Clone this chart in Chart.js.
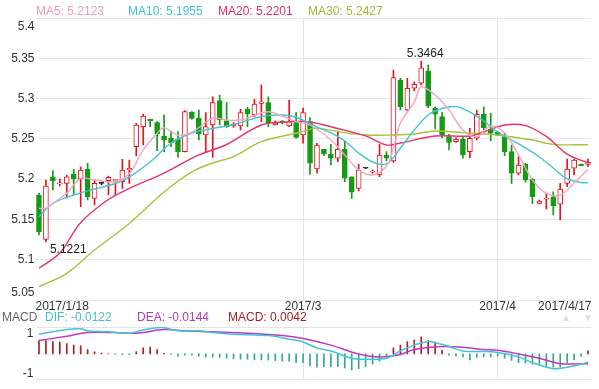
<!DOCTYPE html>
<html>
<head>
<meta charset="utf-8">
<script src="https://cdn.jsdelivr.net/npm/chart.js@4.4.1/dist/chart.umd.min.js"></script>
<style>
  body { margin: 0; background: #fff; font-family: "Liberation Sans", Arial, sans-serif; }
  #wrap { position: relative; width: 599px; height: 389px; overflow: hidden; }
  #kBox { position: absolute; left: 0; top: 0; width: 599px; height: 314px; }
  #mBox { position: absolute; left: 0; top: 312px; width: 599px; height: 77px; }
  .lg { position: absolute; font-size: 12px; line-height: 14px; white-space: nowrap; }
</style>
</head>
<body>
<div id="wrap">
  <div id="kBox"><canvas id="kChart"></canvas></div>
  <div id="mBox"><canvas id="mChart"></canvas></div>
  <div class="lg" style="left:36px;top:4px;color:#ee9cbb">MA5: 5.2123</div>
  <div class="lg" style="left:128px;top:4px;color:#43c0d0">MA10: 5.1955</div>
  <div class="lg" style="left:218px;top:4px;color:#dc2f6a">MA20: 5.2201</div>
  <div class="lg" style="left:308px;top:4px;color:#9fbd3c">MA30: 5.2427</div>
  <div class="lg" style="left:2px;top:310px;color:#666">MACD</div>
  <div class="lg" style="left:45px;top:310px;color:#43c0d0">DIF: -0.0122</div>
  <div class="lg" style="left:137px;top:310px;color:#b23cb4">DEA: -0.0144</div>
  <div class="lg" style="left:228px;top:310px;color:#a51f1f">MACD: 0.0042</div>
  <div class="lg" style="left:561px;top:311px;color:#ddd;font-size:10px">▲</div>
  <div class="lg" style="left:583px;top:311px;color:#ddd;font-size:10px">▼</div>
</div>
<script>
// K线数据
const opens = [5.1803,5.1253,5.203,5.1942,5.1948,5.2064,5.2006,5.2122,5.1762,5.1948,
  5.1981,5.1981,5.1968,5.2114,5.2403,5.2651,5.2743,5.2701,5.2535,5.2507,
  5.2495,5.2341,5.283,5.2755,5.2548,5.2672,5.2974,5.2725,5.266,5.266,
  5.2867,5.2796,5.2941,5.2949,5.2672,5.2725,5.266,5.2701,5.2548,5.2713,
  5.2126,5.237,5.2308,5.2259,5.237,5.203,5.1886,5.2135,5.2085,5.2051,
  5.23,5.2225,5.3231,5.2858,5.3128,5.319,5.3342,5.2879,5.2775,5.2527,
  5.2465,5.2498,5.2341,5.2507,5.2805,5.2622,5.2581,5.2527,5.2341,5.2073,
  5.2184,5.2002,5.17,5.175,5.1782,5.1688,5.1948,5.2135,5.2184,5.2184];
const closes = [5.1348,5.1915,5.1981,5.1952,5.203,5.2006,5.2114,5.1782,5.1948,5.1948,
  5.2023,5.1989,5.2114,5.2135,5.2672,5.2784,5.2725,5.256,5.2486,5.2452,
  5.2341,5.2837,5.2755,5.256,5.2651,5.2949,5.2734,5.2651,5.2684,5.2825,
  5.2809,5.2933,5.296,5.2701,5.2697,5.2697,5.2713,5.2519,5.2827,5.2197,
  5.2424,5.2312,5.2259,5.237,5.2011,5.1837,5.2114,5.2135,5.2101,5.23,
  5.2259,5.3259,5.2899,5.3128,5.3177,5.3383,5.2912,5.2805,5.2548,5.2457,
  5.2498,5.23,5.2507,5.2805,5.2639,5.2569,5.2548,5.2341,5.2073,5.2176,
  5.1989,5.1782,5.1729,5.1762,5.1671,5.1878,5.2126,5.2238,5.2167,5.2209];
const highs = [5.1824,5.1989,5.2105,5.2002,5.2051,5.2122,5.2154,5.2197,5.1989,5.1965,
  5.2039,5.1996,5.2246,5.2238,5.2693,5.2809,5.2747,5.2713,5.2796,5.2601,
  5.2589,5.285,5.2837,5.2858,5.2825,5.3023,5.3044,5.2949,5.2701,5.2867,
  5.2892,5.2991,5.3168,5.3023,5.2725,5.2725,5.2982,5.2825,5.2883,5.2763,
  5.2445,5.237,5.2432,5.2598,5.2473,5.203,5.2184,5.214,5.2114,5.2432,
  5.2341,5.3355,5.3252,5.3252,5.3209,5.3464,5.3417,5.2899,5.283,5.2557,
  5.2514,5.2527,5.2631,5.2858,5.2899,5.2817,5.2589,5.2569,5.2424,5.2279,
  5.2197,5.201,5.1741,5.1824,5.1844,5.1948,5.225,5.225,5.2187,5.225];
const lows = [5.1307,5.1221,5.1865,5.1915,5.1766,5.1803,5.1658,5.1741,5.1679,5.1927,
  5.1803,5.1803,5.1886,5.1948,5.2287,5.2424,5.2651,5.2353,5.2341,5.2403,
  5.2271,5.2337,5.2743,5.2486,5.2328,5.2271,5.2672,5.2643,5.2643,5.261,
  5.2651,5.2775,5.2713,5.2651,5.2672,5.2684,5.2651,5.2507,5.2445,5.206,
  5.2073,5.2291,5.2176,5.2217,5.1968,5.1762,5.1853,5.213,5.2073,5.203,
  5.2225,5.2209,5.2858,5.2846,5.3094,5.3168,5.2887,5.2622,5.2514,5.2362,
  5.2457,5.2259,5.2266,5.2486,5.261,5.2473,5.2539,5.2291,5.1948,5.2051,
  5.1961,5.17,5.1692,5.163,5.1555,5.1493,5.1906,5.2051,5.2165,5.2155];

// 均线 (读取的点: 位置 / 数值)
const ma5Idx = [0,1,2,4,6,8,11,13,15,17,18,20,22,25,27,29,31,33,35,37,39,42,44,46,48,50,51,52,54,55,57,59,61,63,65,67,69,71,73,75,77,79];
const ma5Val = [5.1638,5.1638,5.17,5.1824,5.201,5.199,5.1968,5.207,5.2362,5.2569,5.2639,5.2548,5.2585,5.2755,5.2734,5.2734,5.279,5.2837,5.2784,5.2713,5.2672,5.2486,5.23,5.2114,5.2052,5.216,5.2383,5.2697,5.2957,5.3144,5.3044,5.2858,5.261,5.2527,5.266,5.2573,5.23,5.199,5.1824,5.1803,5.1952,5.2123];
const ma10Idx = [0,2,5,8,11,13,16,19,22,25,28,32,35,37,40,42,44,46,48,50,52,54,56,58,60,62,64,66,68,70,72,74,76,78,79];
const ma10Val = [5.1534,5.17,5.1803,5.1878,5.1946,5.2027,5.2213,5.2445,5.2573,5.2629,5.2678,5.2778,5.2796,5.2768,5.2647,5.2573,5.2474,5.2324,5.2213,5.2188,5.2387,5.261,5.2796,5.2877,5.29,5.2833,5.2722,5.2585,5.2486,5.2387,5.2275,5.2138,5.2002,5.1958,5.1955];
const ma20Idx = [0,3,6,10,13,18,23,27,32,36,39,43,47,50,52,57,62,64,67,70,73,76,79];
const ma20Val = [5.0894,5.1083,5.1462,5.1747,5.1884,5.2076,5.23,5.243,5.2672,5.2713,5.271,5.2629,5.2536,5.2424,5.2449,5.2535,5.2535,5.2585,5.2672,5.2665,5.253,5.231,5.2201];
const ma30Idx = [0,4,8,13,18,22,25,28,32,37,40,43,47,51,54,57,62,66,71,74,79];
const ma30Val = [5.0665,5.083,5.112,5.145,5.184,5.209,5.22,5.228,5.2465,5.257,5.263,5.259,5.2548,5.2548,5.256,5.2598,5.257,5.2548,5.2486,5.2432,5.2427];

// MACD
const difIdx = [0,4,6,7,10,13,15,17,18,20,23,25,28,33,36,38,40,42,45,47,50,52,54,56,57,59,61,64,66,69,71,74,76,78,79];
const difVal = [0.99,1.22,1.26,1.16,1.11,1.04,1.2,1.31,1.31,1.16,1.16,1.07,0.99,0.92,0.74,0.6,0.3,0.15,-0.22,-0.27,-0.22,0.15,0.44,0.62,0.56,0.37,0.15,0.12,0.07,-0.15,-0.44,-0.74,-0.67,-0.52,-0.41];
const deaIdx = [0,4,7,11,14,18,21,25,30,35,38,42,46,49,52,54,58,61,64,66,69,72,75,79];
const deaVal = [0.67,0.89,1.07,1.07,1.04,1.22,1.16,1.11,1.04,0.92,0.77,0.44,0,-0.15,-0.03,0.22,0.37,0.33,0.22,0.18,0,-0.22,-0.49,-0.49];
const macdHist = [0.67,0.67,0.62,0.59,0.52,0.44,0.4,0.22,0.1,0.04,
  0,-0.03,-0.04,-0.04,0.12,0.3,0.34,0.22,0.03,-0.03,
  -0.12,-0.06,-0.07,-0.12,-0.15,-0.16,-0.18,-0.22,-0.24,-0.27,
  -0.27,-0.3,-0.3,-0.31,-0.34,-0.37,-0.37,-0.44,-0.44,-0.59,
  -0.67,-0.64,-0.64,-0.64,-0.71,-0.81,-0.74,-0.64,-0.52,-0.37,
  -0.22,0.3,0.44,0.62,0.71,0.86,0.67,0.59,0.18,-0.07,
  -0.12,-0.15,-0.3,-0.18,-0.15,-0.15,-0.12,-0.22,-0.33,-0.44,
  -0.47,-0.52,-0.52,-0.62,-0.67,-0.67,-0.44,-0.3,-0.12,0.15];

// 坐标轴标签
const yTicks = [5.4, 5.35, 5.3, 5.25, 5.2, 5.15, 5.1, 5.05];
const xTickIdx = [0, 38, 66, 79];
const xTickText = ['2017/1/18', '2017/3', '2017/4', '2017/4/17'];
const vGridIdx = [38, 66];

const FONT = '"Liberation Sans", Arial, sans-serif';
Chart.defaults.font.family = FONT;
Chart.defaults.font.size = 12;

const colors = {
  up: '#e0161e', down: '#159a16', flat: '#222',
  ma5: '#f3a5c2', ma10: '#45c4d3', ma20: '#e4346e', ma30: '#a8c23a',
  dif: '#3fc6d6', dea: '#c634c8', histUp: '#a82020', histDown: '#34a88e',
  grid: '#e8e8e8', text: '#333'
};

const cats = opens.map((_, i) => i);
const pts = (idx, val) => idx.map((x, k) => ({ x: x, y: val[k] }));
const candleColor = i => closes[i] > opens[i] ? colors.up : (closes[i] < opens[i] ? colors.down : colors.flat);

const xScaleOpts = {
  type: 'category',
  offset: true,
  ticks: { display: false, autoSkip: false },
  grid: { offset: false, drawTicks: false, color: c => vGridIdx.includes(c.index) ? '#e4e4e4' : 'transparent' },
  border: { display: false },
  afterFit: s => { s.height = 0; }
};

function maLine(data, color) {
  return { type: 'line', data: data, borderColor: color, borderWidth: 1.4, pointRadius: 0, tension: 0.35, fill: false };
}

// 文字: 纵轴刻度、日期、最高/最低标注
const kLabels = {
  id: 'kLabels',
  afterDraw(chart) {
    const { ctx, chartArea: a } = chart;
    const x = chart.scales.x, y = chart.scales.y;
    ctx.save();
    ctx.font = '12px ' + FONT;
    ctx.fillStyle = colors.text;
    ctx.textAlign = 'right';
    ctx.textBaseline = 'middle';
    yTicks.forEach((v, k) => {
      let py = y.getPixelForValue(v);
      if (k === 0) py += 9;
      if (k === yTicks.length - 1) py -= 7;
      ctx.fillText(String(v), a.left - 1, py);
    });
    ctx.textAlign = 'left';
    xTickIdx.forEach((idx, k) => {
      const w = ctx.measureText(xTickText[k]).width;
      let left = x.getPixelForValue(idx) - w / 2;
      left = Math.max(a.left, Math.min(a.right - w, left));
      ctx.fillText(xTickText[k], left, a.bottom + 7);
    });
    // 最高点 / 最低点
    let hi = 0, lo = 0;
    highs.forEach((h, i) => { if (h > highs[hi]) hi = i; });
    lows.forEach((l, i) => { if (l < lows[lo]) lo = i; });
    ctx.fillStyle = '#222';
    ctx.textBaseline = 'alphabetic';
    ctx.textAlign = 'center';
    ctx.fillText(highs[hi].toFixed(4), x.getPixelForValue(hi) + 4, y.getPixelForValue(highs[hi]) - 4);
    ctx.textAlign = 'left';
    ctx.fillText(lows[lo].toFixed(4), x.getPixelForValue(lo) + 4, y.getPixelForValue(lows[lo]) + 11);
    ctx.restore();
  }
};

new Chart(document.getElementById('kChart'), {
  type: 'bar',
  data: {
    labels: cats,
    datasets: [
      Object.assign(maLine(pts(ma5Idx, ma5Val), colors.ma5), { order: 1 }),
      Object.assign(maLine(pts(ma10Idx, ma10Val), colors.ma10), { order: 2 }),
      Object.assign(maLine(pts(ma20Idx, ma20Val), colors.ma20), { order: 3 }),
      Object.assign(maLine(pts(ma30Idx, ma30Val), colors.ma30), { order: 4 }),
      {
        data: opens.map((o, i) => [o, closes[i]]),
        backgroundColor: opens.map((o, i) => closes[i] > o ? '#fff' : candleColor(i)),
        borderColor: opens.map((o, i) => candleColor(i)),
        borderWidth: 1,
        borderSkipped: false,
        barThickness: 5,
        minBarLength: 1,
        grouped: false,
        order: 5
      },
      {
        data: lows.map((l, i) => [l, highs[i]]),
        backgroundColor: opens.map((o, i) => candleColor(i)),
        barThickness: 1,
        grouped: false,
        order: 6
      }
    ]
  },
  options: {
    responsive: true,
    maintainAspectRatio: false,
    animation: false,
    layout: { padding: { top: 18, right: 7.5, bottom: 14, left: 0 } },
    plugins: { legend: { display: false }, tooltip: { enabled: false } },
    scales: {
      x: xScaleOpts,
      y: {
        min: 5.05, max: 5.4,
        ticks: { display: false, stepSize: 0.05 },
        grid: { color: colors.grid, drawTicks: false },
        border: { display: false },
        afterFit: s => { s.width = 35.5; }
      }
    }
  },
  plugins: [kLabels]
});

new Chart(document.getElementById('mChart'), {
  type: 'bar',
  data: {
    labels: cats,
    datasets: [
      { type: 'line', data: pts(difIdx, difVal), borderColor: colors.dif, borderWidth: 1.5, pointRadius: 0, tension: 0.35, order: 1 },
      { type: 'line', data: pts(deaIdx, deaVal), borderColor: colors.dea, borderWidth: 1.5, pointRadius: 0, tension: 0.35, order: 2 },
      {
        data: macdHist,
        backgroundColor: macdHist.map(v => v >= 0 ? colors.histUp : colors.histDown),
        barThickness: 1,
        order: 3
      }
    ]
  },
  options: {
    responsive: true,
    maintainAspectRatio: false,
    animation: false,
    layout: { padding: { top: 15, right: 7.5, bottom: 3, left: 0 } },
    plugins: { legend: { display: false }, tooltip: { enabled: false } },
    scales: {
      x: xScaleOpts,
      y: {
        min: -1.3, max: 1.35,
        afterBuildTicks: s => { s.ticks = [-1.3, -1, 1, 1.35].map(v => ({ value: v })); },
        ticks: {
          autoSkip: false,
          padding: 2,
          color: colors.text,
          callback: v => (v === 1 || v === -1) ? String(v) : ''
        },
        grid: { drawTicks: false, color: c => Math.abs(c.tick.value) === 1 ? 'transparent' : '#e4e4e4' },
        border: { display: false },
        afterFit: s => { s.width = 35.5; }
      }
    }
  }
});
</script>
</body>
</html>
